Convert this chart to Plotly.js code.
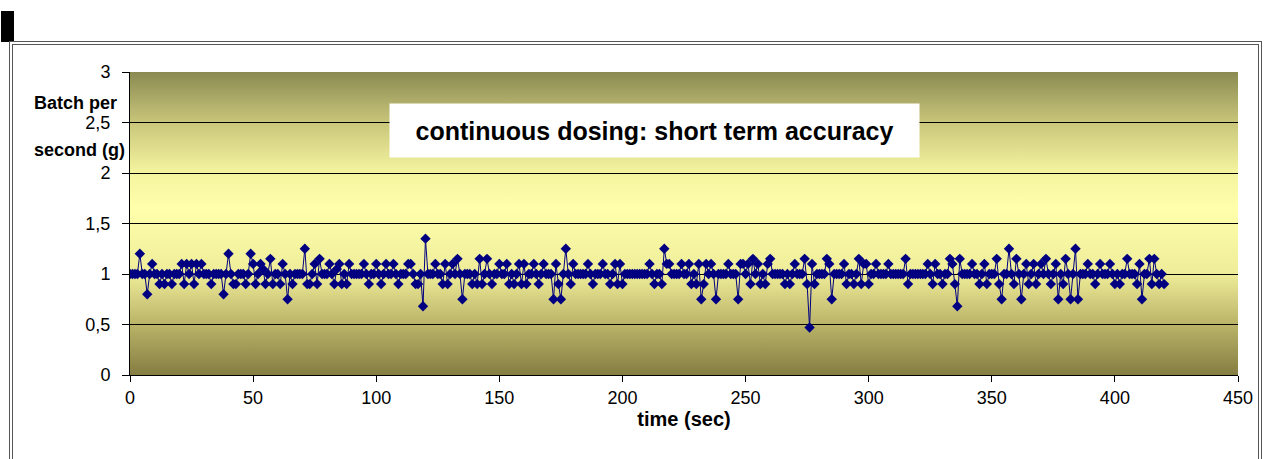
<!DOCTYPE html>
<html><head><meta charset="utf-8">
<script src="https://cdn.plot.ly/plotly-3.0.1.min.js"></script>
<style>
html,body{margin:0;padding:0;background:#fff;width:1266px;height:459px;overflow:hidden;}
#wrap{position:relative;width:1266px;height:459px;}
#bg{position:absolute;left:130px;top:72px;width:1108px;height:303px;
 background:linear-gradient(to bottom,#8a8a52 0%,#c9c67a 16.7%,#f5f5a0 33.3%,#ffffac 45%,#eeec98 66.7%,#bab368 83.3%,#857d42 100%);}
.blk{position:absolute;left:1px;top:11px;width:13px;height:31px;background:#000;}
.f1{position:absolute;left:9px;top:41px;width:1251px;height:440px;border:1px solid #555;}
.f2{position:absolute;left:12px;top:44px;width:1245px;height:440px;border:1px solid #555;}
#chart{position:absolute;left:0;top:0;width:1266px;height:459px;}
</style></head>
<body><div id="wrap"><div class="blk"></div><div class="f1"></div><div class="f2"></div><div id="bg"></div><div id="chart"></div></div>
<script>
// Batch per second (g), one sample per second, t = 0 .. 420 s
const batchPerSecond = [
1,1,1,1,1.2,1,1,0.8,1,1.1,
1,1,0.9,1,0.9,1,1,0.9,1,1,
1,1.1,0.9,1.1,1,1.1,0.9,1.1,1,1.1,
1,1,1,0.9,1,1,1,1,0.8,1,
1.2,1,0.9,0.9,1,1,1,0.9,1,1.2,
1.1,0.9,1,1.1,1.05,0.9,1,1.15,0.9,1,
1,0.9,1.1,1,0.75,1,0.9,1,1,1,
1,1.25,0.9,0.9,1,1.1,0.9,1.15,1,1,
1,1.1,1,0.9,1.05,1.1,0.9,1,0.9,1.1,
1,1,1,1,1,1.1,1,0.9,1,1,
1.1,1,0.9,1,1.1,1,1,1.1,1,0.9,
1,1,1,1.1,1.1,1,0.9,0.9,1,0.68,
1.35,1,1,1,1.1,1,1,0.9,1.1,0.9,
1,1.1,1,1.15,1,0.75,1,1,1,0.9,
1,0.9,1.15,0.9,1,1.15,1,0.9,1,1,
1.1,1,1,1.1,0.9,1,0.9,1,1.1,0.9,
1.1,0.9,1,1,1.1,1,0.9,1,1.1,1,
1,1,0.75,1.1,0.9,0.75,1,1.25,1,0.9,
1.1,1,1,1,1,1,1.1,1,0.9,1,
1,1,1.1,1,1,0.9,1,1.1,0.9,1.1,
0.9,1,1,1,1,1,1,1,1,1,
1,1.1,1,0.9,1,1,0.9,1.25,1.1,1.1,
1,1,1,1,1.1,1,1,1.1,0.9,1,
0.9,1.1,0.75,0.9,1.1,1,1.1,1,0.75,1,
1,1,1,1.1,1,1,1,0.75,1.1,1.1,
1,1.1,0.9,1.15,1,1.1,0.9,1,0.9,1.1,
1.15,1,1,1,1,1,0.9,1,0.9,1,
1.1,1,1,1,1.15,0.9,0.47,1.1,0.9,1,
1,1,1,1.15,1.1,0.75,1,1,1,1,
1.1,0.9,1,1,0.9,1,1.15,0.9,1.1,1.1,
0.9,1,1,1.1,1,1,1,1,1.1,1,
1,1,1,1,1,1.15,0.9,1,1,1,
1,1,1,1,1.1,1,0.9,1.1,1,1,
0.9,1,1,1.15,1.1,0.9,0.68,1.15,1,1,
1,1,1.1,1,1,0.9,1,1.1,0.9,1,
1,1,1.15,0.9,0.75,1,1,1.25,1,0.9,
1.15,1,0.75,1,1.1,0.9,1,1.1,0.9,1,
1.1,1,1.15,1,0.9,1,1.1,0.75,1,0.9,
1.15,1,0.75,1,1.25,0.75,1,1,1,1.1,
1,1,0.9,1,1.1,1,1,1,1.1,1,
0.9,1,0.9,1,1,1.15,1,1,1,0.9,
1.1,0.75,1,1,1.15,0.9,1.15,1,0.9,1,
0.9
];
const timeSec = batchPerSecond.map((_, i) => i);
const xTicks = [0,50,100,150,200,250,300,350,400,450];
const yTicks = [0,0.5,1,1.5,2,2.5,3];
const chartTitle = 'continuous dosing: short term accuracy';
const xTitle = 'time (sec)';
const yTitleLines = ['Batch per', 'second (g)'];

const FONT = 'Liberation Sans, Arial, sans-serif';

const trace = {
  type: 'scatter', mode: 'lines+markers',
  x: timeSec, y: batchPerSecond,
  line: {color: '#000080', width: 1},
  marker: {symbol: 'diamond', size: 8, color: '#000080'},
  hoverinfo: 'x+y', showlegend: false
};

const layout = {
  width: 1266, height: 459,
  margin: {l: 130, r: 28, t: 72, b: 84, pad: 0},
  paper_bgcolor: 'rgba(0,0,0,0)', plot_bgcolor: 'rgba(0,0,0,0)',
  separators: ',.',
  font: {family: FONT, size: 18, color: '#000'},
  showlegend: false,
  xaxis: {
    range: [0, 450], tickvals: xTicks, ticktext: xTicks.map(String),
    showgrid: false, zeroline: false, showline: true, linecolor: '#000', linewidth: 1,
    ticks: 'outside', ticklen: 6, tickcolor: '#000', tickwidth: 1,
    tickfont: {family: FONT, size: 18, color: '#000'},
    title: {text: '<b>' + xTitle + '</b>', font: {family: FONT, size: 20, color: '#000'}, standoff: 0},
    automargin: false
  },
  yaxis: {
    range: [0, 3], tickvals: yTicks,
    showgrid: true, gridcolor: '#000', gridwidth: 1, zeroline: false,
    showline: true, linecolor: '#000', linewidth: 1,
    ticks: 'outside', ticklen: 7, tickcolor: '#000', tickwidth: 1,
    ticklabelstandoff: 8,
    tickfont: {family: FONT, size: 18, color: '#000'},
    automargin: false
  },
  annotations: [
    {xref: 'paper', yref: 'paper', x: (654-130)/1108, y: (375-130)/303, xanchor: 'center', yanchor: 'middle',
     text: '<b>' + chartTitle + '</b>', showarrow: false, bgcolor: '#fff',
     width: 527, height: 51, font: {family: FONT, size: 25, color: '#000'}},
    {xref: 'paper', yref: 'paper', x: (32-130)/1108, y: (375-103)/303, xanchor: 'left', yanchor: 'middle',
     text: '<b>' + yTitleLines[0] + '</b>', showarrow: false, font: {family: FONT, size: 18, color: '#000'}},
    {xref: 'paper', yref: 'paper', x: (32-130)/1108, y: (375-150)/303, xanchor: 'left', yanchor: 'middle',
     text: '<b>' + yTitleLines[1] + '</b>', showarrow: false, font: {family: FONT, size: 18, color: '#000'}}
  ]
};

Plotly.newPlot('chart', [trace], layout, {staticPlot: true, displayModeBar: false});
</script></body></html>
